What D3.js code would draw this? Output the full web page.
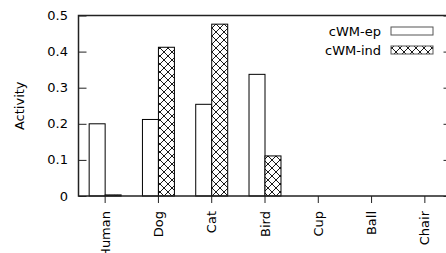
<!DOCTYPE html>
<html>
<head>
<meta charset="utf-8">
<script src="https://d3js.org/d3.v7.min.js"></script>
<style>
  body { margin: 0; background: #fff; }
  text { font-family: "DejaVu Sans", sans-serif; font-size: 13px; fill: #000; }
</style>
</head>
<body>
<svg id="chart" width="446" height="253"></svg>
<script>
// data
const categories = ['Human', 'Dog', 'Cat', 'Bird', 'Cup', 'Ball', 'Chair'];
const epValues = [0.200, 0.212, 0.254, 0.337, 0, 0, 0];
const indValues = [0.003, 0.412, 0.476, 0.111, 0, 0, 0];
const seriesNames = ['cWM-ep', 'cWM-ind'];
const yTicks = [0, 0.1, 0.2, 0.3, 0.4, 0.5];

const svg = d3.select('#chart');

// plot box (right side runs past the window, like the original)
const plotL = 78.5, plotR = 451.5, plotT = 15.5, plotB = 196;

const x = d3.scaleBand().domain(categories).range([plotL, plotR]).padding(0);
const y = d3.scaleLinear().domain([0, 0.5]).range([plotB, plotT]);
const bw = x.bandwidth();
const barW = bw * 0.3;
const cx = c => x(c) + bw / 2;

// crosshatch fill
const defs = svg.append('defs');
const pat = defs.append('pattern')
  .attr('id', 'hatch')
  .attr('patternUnits', 'userSpaceOnUse')
  .attr('width', 8).attr('height', 8);
pat.append('rect').attr('width', 8).attr('height', 8).attr('fill', '#fff');
pat.append('path').attr('d', 'M0,0L8,8M8,0L0,8')
  .attr('stroke', '#000').attr('stroke-width', 0.9);

// bars
const g = svg.append('g');
g.selectAll('rect.ep')
  .data(categories)
  .enter().append('rect')
  .attr('class', 'ep')
  .attr('x', c => cx(c) - barW)
  .attr('y', (c, i) => y(epValues[i]))
  .attr('width', barW)
  .attr('height', (c, i) => plotB - y(epValues[i]))
  .attr('fill', '#fff').attr('stroke', '#000').attr('stroke-width', 1);

g.selectAll('rect.ind')
  .data(categories)
  .enter().append('rect')
  .attr('class', 'ind')
  .attr('x', c => cx(c))
  .attr('y', (c, i) => y(indValues[i]))
  .attr('width', barW)
  .attr('height', (c, i) => plotB - y(indValues[i]))
  .attr('fill', 'url(#hatch)').attr('stroke', '#000').attr('stroke-width', 1);

// border
svg.append('rect')
  .attr('x', plotL).attr('y', plotT)
  .attr('width', plotR - plotL).attr('height', plotB - plotT)
  .attr('fill', 'none').attr('stroke', '#222').attr('stroke-width', 1.5);

// y axis: ticks inward on both sides
const yAxisL = d3.axisRight(y).tickValues(yTicks).tickSize(8).tickFormat('');
svg.append('g').attr('transform', `translate(${plotL},0)`).call(yAxisL)
  .call(s => s.select('.domain').remove())
  .selectAll('line').attr('stroke', '#222');
const yAxisR = d3.axisLeft(y).tickValues(yTicks).tickSize(8).tickFormat('');
svg.append('g').attr('transform', `translate(${plotR},0)`).call(yAxisR)
  .call(s => s.select('.domain').remove())
  .selectAll('line').attr('stroke', '#222');

svg.append('g').selectAll('text')
  .data(yTicks)
  .enter().append('text')
  .attr('x', 68).attr('y', d => y(d)).attr('dy', '0.35em')
  .attr('text-anchor', 'end')
  .text(d => d === 0 ? '0' : d3.format('.1f')(d));

// x axis: ticks outward, labels rotated
const xAxis = d3.axisBottom(x).tickSize(7).tickFormat('');
svg.append('g').attr('transform', `translate(0,${plotB})`).call(xAxis)
  .call(s => s.select('.domain').remove())
  .selectAll('line').attr('stroke', '#222');

svg.append('g').selectAll('text')
  .data(categories)
  .enter().append('text')
  .attr('transform', c => `translate(${cx(c)},211) rotate(-90)`)
  .attr('dy', '0.35em')
  .attr('text-anchor', 'end')
  .text(c => c);

// y label
svg.append('text')
  .attr('transform', `translate(19,${(plotT + plotB) / 2}) rotate(-90)`)
  .attr('dy', '0.35em')
  .attr('text-anchor', 'middle')
  .text('Activity');

// legend
const legend = svg.append('g');
seriesNames.forEach((name, i) => {
  const ly = 31 + i * 19;
  legend.append('text')
    .attr('x', 381).attr('y', ly).attr('dy', '0.35em')
    .attr('text-anchor', 'end')
    .text(name);
  legend.append('rect')
    .attr('x', 391).attr('y', ly - 4)
    .attr('width', 42).attr('height', 8)
    .attr('fill', i === 0 ? '#fff' : 'url(#hatch)')
    .attr('stroke', '#555').attr('stroke-width', 1);
});
</script>
</body>
</html>
